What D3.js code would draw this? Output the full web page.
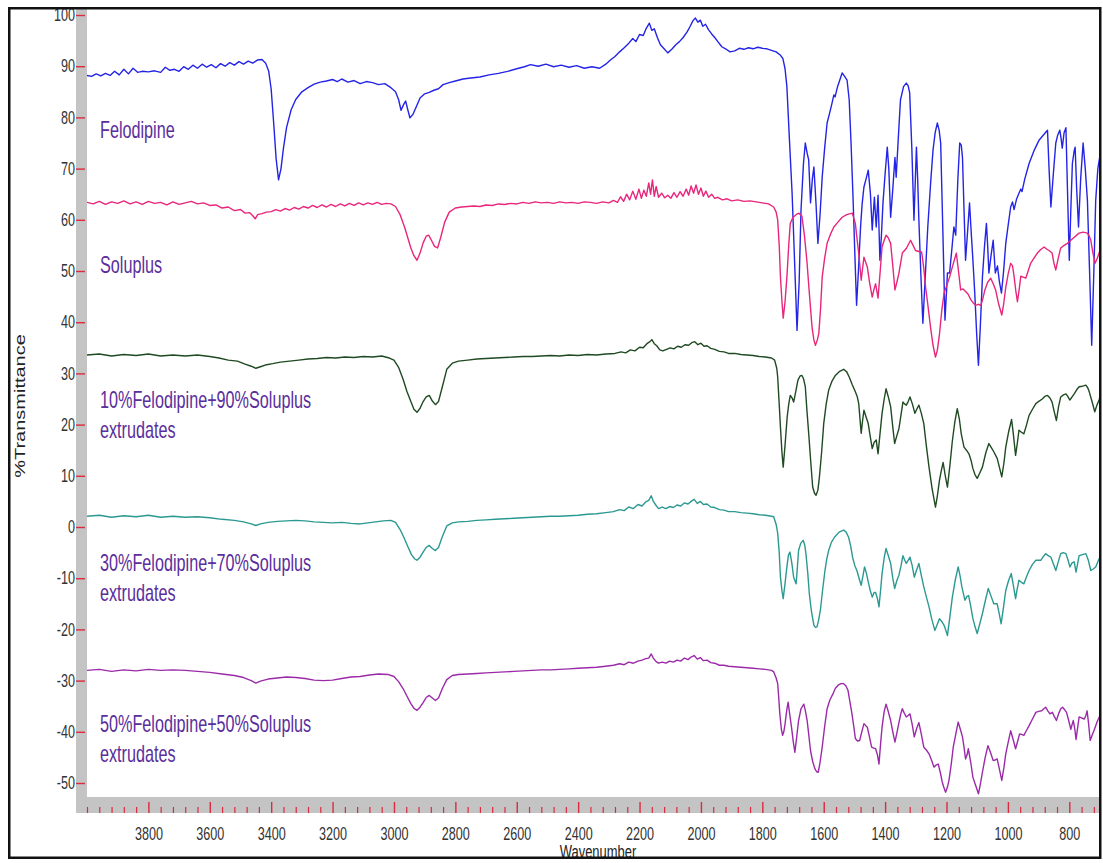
<!DOCTYPE html>
<html>
<head>
<meta charset="utf-8">
<script src="https://cdn.jsdelivr.net/npm/d3@7"></script>
<style>
  body { margin: 0; background: #fff; }
  svg { display: block; font-family: "Liberation Sans", Arial, sans-serif; }
</style>
</head>
<body>
<div id="chart"></div>
<script>
// ---- data (wavenumber, %T) ----
const felodipine = [
  [4000,88.2],[3985,88.0],[3970,88.5],[3955,88.1],[3940,88.6],[3925,88.2],[3910,89.0],[3895,88.3],[3880,89.4],[3865,88.5],
  [3850,89.6],[3835,88.8],[3820,89.0],[3800,88.9],[3780,89.1],[3760,88.8],[3745,89.8],[3730,89.2],[3715,89.4],[3700,89.0],
  [3685,89.9],[3670,89.4],[3655,90.2],[3640,89.6],[3625,90.4],[3610,89.8],[3595,90.3],[3580,89.7],[3565,90.5],[3550,90.0],
  [3535,90.7],[3520,90.2],[3505,90.9],[3490,90.4],[3475,91.0],[3460,90.6],[3445,91.2],[3430,91.3],[3418,90.6],[3408,89.0],
  [3400,85.5],[3392,79],[3384,72],[3376,67.8],[3368,70],[3360,74],[3350,78],[3335,81.5],[3320,83.5],[3300,85.0],
  [3280,85.8],[3260,86.5],[3240,86.9],[3220,87.1],[3200,87.4],[3185,87.0],[3170,87.5],[3150,86.9],[3130,87.2],[3110,86.6],
  [3090,87.0],[3070,86.8],[3050,86.4],[3030,86.6],[3010,85.8],[2995,85.0],[2985,83.5],[2977,81.4],[2968,82.6],[2962,83.2],
  [2955,81.5],[2948,79.9],[2938,80.6],[2928,82.0],[2915,83.8],[2900,84.6],[2885,84.9],[2870,85.3],[2855,85.6],[2840,86.4],
  [2820,86.8],[2800,87.1],[2775,87.5],[2750,87.7],[2720,87.9],[2690,88.3],[2660,88.6],[2630,89.0],[2600,89.5],[2575,89.9],
  [2555,90.3],[2530,90.0],[2505,90.4],[2480,89.9],[2455,90.2],[2430,89.8],[2405,90.1],[2380,89.6],[2355,89.9],[2330,89.6],
  [2310,90.4],[2295,91.2],[2280,91.9],[2265,92.8],[2250,93.6],[2235,94.5],[2222,95.4],[2212,94.8],[2200,96.2],[2188,96.0],
  [2178,97.4],[2168,98.4],[2160,97.0],[2152,97.3],[2142,95.6],[2132,94.2],[2120,93.4],[2108,92.6],[2095,93.3],[2082,94.2],
  [2070,94.8],[2058,95.6],[2045,96.7],[2035,97.8],[2026,98.9],[2018,99.4],[2010,98.6],[2002,99.0],[1994,97.8],[1985,98.2],
  [1975,97.1],[1965,96.3],[1955,95.6],[1945,94.8],[1932,93.8],[1920,93.4],[1905,92.8],[1890,93.0],[1875,93.5],[1860,93.3],
  [1845,93.6],[1830,93.4],[1815,93.7],[1800,93.5],[1785,93.4],[1770,93.1],[1755,92.8],[1742,92.2],[1733,91.5],[1726,89.5],
  [1720,86],[1712,76],[1703,65.2],[1695,52],[1687,38.4],[1680,48],[1674,61.9],[1666,71],[1660,75],[1654,73],
  [1649,71.7],[1643,63.3],[1637,68],[1632,70.3],[1625,63],[1619,55.4],[1612,61],[1605,68.3],[1597,74],[1589,78.9],
  [1581,80.8],[1573,82.8],[1567,84.4],[1563,84],[1555,86],[1546,87.6],[1540,88.7],[1532,88],[1524,87.3],[1517,83.4],
  [1511,75],[1505,65.2],[1499,54],[1493,43.3],[1487,50],[1480,58.6],[1475,63],[1469,66.4],[1462,68],[1455,69.7],
  [1448,65.2],[1442,58],[1435,64.4],[1429,58.6],[1423,64.8],[1417,52.1],[1412,57],[1407,63.3],[1400,69],[1393,74.2],
  [1388,70],[1382,60.5],[1375,66],[1368,72.2],[1364,68.3],[1357,76],[1350,83.4],[1340,86],[1331,86.7],[1325,86.2],
  [1320,84.8],[1313,74],[1306,59.9],[1298,74.2],[1294,68],[1290,59.9],[1284,50],[1277,39.8],[1270,48],[1261,58.6],
  [1252,67],[1244,73.6],[1237,77],[1230,78.9],[1224,77.5],[1219,75],[1212,58],[1205,40.4],[1200,46],[1197,49.6],
  [1190,49.6],[1183,54],[1176,58.6],[1170,57],[1163,68],[1157,75],[1152,74.6],[1148,72.2],[1143,62],[1138,52.1],
  [1131,58],[1125,63.3],[1120,58],[1114,52.1],[1108,45.7],[1102,38],[1096,31.6],[1090,39],[1083,48.8],[1076,55],
  [1070,59.3],[1066,55],[1062,49.6],[1055,53],[1048,56],[1041,49.6],[1034,51],[1028,48],[1021,45.7],[1014,50],
  [1007,55.4],[999,59],[991,62.5],[985,63.5],[980,62],[972,64],[964,65.2],[958,66],[954,65.5],[945,68],
  [931,71],[915,73.5],[898,75.6],[885,76.5],[871,77.5],[866,70],[860,62.5],[852,69],[844,75],[838,76.5],
  [831,77.5],[827,76],[823,74],[817,77],[811,78],[806,66],[800,52.1],[795,62],[790,71],[784,73.5],
  [781,74.2],[776,66],[770,58.6],[763,68],[755,75],[748,70],[741,63.8],[734,50],[727,35.5],[720,50],
  [714,63.8],[707,70],[700,72.6]
];

const soluplus = [
  [4000,63.4],[3980,63.1],[3960,63.6],[3940,63.0],[3920,63.5],[3900,63.2],[3880,63.7],[3860,63.1],[3840,63.5],[3820,63.0],
  [3800,63.6],[3780,63.2],[3760,63.4],[3740,62.9],[3720,63.5],[3700,63.0],[3680,63.3],[3660,63.6],[3640,63.1],[3620,63.3],
  [3600,62.8],[3580,62.9],[3560,62.3],[3540,62.5],[3520,61.8],[3500,62.0],[3485,61.3],[3470,61.4],[3460,60.8],[3452,60.2],
  [3444,61.0],[3430,61.2],[3415,61.5],[3400,61.6],[3385,62.0],[3370,61.7],[3355,62.2],[3340,61.9],[3325,62.4],[3310,62.1],
  [3295,62.6],[3280,62.3],[3265,62.8],[3250,62.4],[3235,62.9],[3220,62.5],[3205,63.0],[3190,62.6],[3175,63.1],[3160,62.7],
  [3145,63.2],[3130,62.8],[3115,63.3],[3100,62.9],[3085,63.3],[3070,63.0],[3055,63.4],[3040,63.0],[3025,63.2],[3010,63.1],
  [2995,62.6],[2980,61.0],[2965,58.5],[2955,56.5],[2945,54.5],[2935,53.0],[2925,52.1],[2915,53.5],[2905,55.5],[2895,56.8],
  [2887,57.0],[2878,56.0],[2868,54.8],[2858,54.5],[2848,56.5],[2835,59.5],[2820,61.5],[2800,62.3],[2780,62.5],[2760,62.6],
  [2740,62.7],[2720,62.6],[2700,62.9],[2680,62.8],[2660,63.1],[2640,63.0],[2620,63.2],[2600,63.1],[2580,63.4],[2560,63.2],
  [2540,63.5],[2520,63.3],[2500,63.4],[2480,63.2],[2460,63.5],[2440,63.3],[2420,63.4],[2400,63.2],[2380,63.5],[2360,63.4],
  [2340,63.2],[2320,63.5],[2300,63.3],[2285,63.8],[2272,63.4],[2262,64.5],[2252,63.6],[2242,65.0],[2232,63.9],[2222,65.6],
  [2212,64.0],[2202,66.0],[2194,64.2],[2186,65.8],[2178,64.6],[2170,67.2],[2164,65.0],[2158,67.8],[2152,64.6],[2146,66.5],
  [2138,64.4],[2128,65.2],[2118,64.3],[2108,64.8],[2098,64.2],[2088,65.3],[2078,64.4],[2068,65.5],[2058,64.6],[2048,66.0],
  [2040,64.8],[2032,66.6],[2024,65.2],[2016,66.8],[2008,65.0],[2000,66.2],[1992,64.6],[1984,65.6],[1975,64.4],[1965,65.0],
  [1955,64.2],[1945,64.4],[1930,63.9],[1915,64.1],[1900,63.7],[1880,63.9],[1860,63.6],[1840,63.7],[1820,63.5],[1800,63.3],
  [1780,63.1],[1763,62.5],[1755,61.5],[1750,60],[1745,55],[1741,48.8],[1736,44],[1732,40.8],[1726,44],[1720,48.8],
  [1714,55],[1709,59.3],[1700,60.5],[1690,61],[1681,61.3],[1671,60.7],[1663,57],[1655,52.1],[1646,45],[1638,39],
  [1632,36.5],[1627,35.5],[1621,36.5],[1616,37.8],[1610,43],[1605,48.8],[1597,52.5],[1589,55.4],[1578,57.2],[1567,58.6],
  [1553,59.6],[1540,60.5],[1525,61.0],[1507,61.3],[1497,59.3],[1491,56],[1486,53.5],[1478,48.2],[1469,52.7],[1458,50.8],
  [1450,47.5],[1442,44.9],[1436,46.5],[1431,47.5],[1423,44.7],[1416,50],[1410,54.7],[1403,56],[1397,57],[1390,56.5],
  [1382,55.4],[1375,51],[1368,46.3],[1361,48],[1355,49.6],[1344,53.5],[1331,54.4],[1317,56],[1309,55],[1301,54],
  [1290,53.8],[1281,53.7],[1274,50.5],[1268,46.8],[1260,43],[1252,39],[1244,35.5],[1236,33.2],[1230,34.5],[1223,37.6],
  [1216,42],[1208,45.7],[1200,47],[1190,48.8],[1180,51],[1168,53.5],[1161,50],[1154,46.3],[1146,46.5],[1138,46],
  [1130,45.5],[1120,44.3],[1112,43.7],[1105,43.3],[1097,43.5],[1088,43.3],[1082,44.5],[1075,46.3],[1066,47.8],[1056,48.6],
  [1048,47.5],[1040,46.3],[1030,43.5],[1020,41.4],[1014,43.5],[1007,46.8],[999,49.5],[991,51.5],[985,51],[980,49],
  [974,46],[969,44],[963,46.5],[958,49],[950,48.8],[942,48.6],[934,50],[926,51.5],[915,52.5],[904,53.5],
  [893,54.2],[882,54.7],[874,54.3],[866,54],[856,53.5],[850,51.5],[844,50.2],[836,52.5],[828,54.5],[817,55],
  [806,55.4],[795,56],[784,56.6],[768,57.4],[755,57.6],[741,57.4],[735,56.8],[730,56],[723,53.5],[716,51.5],
  [709,52.5],[703,53.5],[700,54]
];

const ext10 = [
  [4000,33.6],[3960,33.8],[3920,33.4],[3880,33.7],[3840,33.5],[3800,33.8],[3760,33.4],[3720,33.6],[3680,33.4],[3640,33.6],
  [3600,33.3],[3570,33.0],[3540,32.6],[3510,32.4],[3485,31.8],[3465,31.4],[3450,31.0],[3435,31.3],[3415,31.7],[3395,31.9],
  [3370,32.2],[3340,32.4],[3310,32.6],[3280,32.8],[3250,32.9],[3220,33.1],[3190,33.0],[3160,33.2],[3130,33.1],[3100,33.3],
  [3070,33.2],[3040,33.4],[3015,33.0],[3000,32.6],[2985,31.2],[2970,28.8],[2958,26.5],[2945,24.5],[2935,23.0],[2925,22.4],
  [2915,23.2],[2905,24.5],[2895,25.4],[2885,25.7],[2875,24.6],[2865,23.9],[2855,24.5],[2842,27.5],[2828,30.8],[2810,32.0],
  [2790,32.4],[2760,32.6],[2730,32.8],[2700,32.9],[2670,33.0],[2640,33.1],[2610,33.2],[2580,33.3],[2550,33.3],[2520,33.4],
  [2490,33.5],[2460,33.4],[2430,33.6],[2400,33.5],[2370,33.7],[2340,33.6],[2310,33.8],[2280,33.9],[2260,34.2],[2245,34.0],
  [2230,34.6],[2215,34.4],[2200,35.1],[2188,35.0],[2176,35.8],[2166,36.2],[2160,36.6],[2152,35.8],[2144,35.4],[2134,34.6],
  [2124,34.4],[2112,34.7],[2100,35.0],[2088,34.8],[2076,35.3],[2064,35.1],[2052,35.6],[2040,35.5],[2030,36.0],[2020,36.2],
  [2010,35.6],[2000,35.9],[1990,35.3],[1980,35.4],[1968,34.9],[1955,34.7],[1940,34.3],[1925,34.2],[1910,33.9],[1890,33.9],
  [1870,33.7],[1850,33.6],[1830,33.5],[1810,33.3],[1790,33.2],[1770,33.0],[1760,32.6],[1753,31.0],[1750,29.3],[1745,24],
  [1741,19.5],[1736,14.5],[1732,11.7],[1726,16],[1719,21.5],[1714,24],[1709,25.7],[1703,25.2],[1698,24.4],[1691,26.5],
  [1684,28.7],[1677,29.5],[1671,29.6],[1666,29],[1660,27.4],[1655,23],[1649,18.3],[1642,12.5],[1636,7.8],[1630,6.6],
  [1625,6.2],[1619,7.2],[1614,9.8],[1607,14.5],[1600,20.2],[1592,24],[1584,26.7],[1573,28.5],[1562,29.6],[1548,30.4],
  [1535,30.8],[1525,30.3],[1517,29.3],[1507,27.8],[1497,26.4],[1491,25.5],[1486,24.1],[1478,18.3],[1474,20.5],[1469,22.8],
  [1462,21.5],[1455,20.2],[1448,17.5],[1442,15.3],[1436,16.5],[1429,17],[1423,14.3],[1417,18],[1410,22.2],[1403,25],
  [1397,27],[1390,25.5],[1382,23.5],[1375,19.5],[1369,16.3],[1362,17.8],[1355,19.2],[1348,22],[1342,24.4],[1336,24],
  [1331,23.8],[1325,24.5],[1319,25.4],[1311,24],[1303,22.2],[1297,23],[1290,23.8],[1282,22.2],[1274,20.2],[1266,16],
  [1257,11.7],[1247,7.5],[1236,3.9],[1230,6],[1223,9.1],[1217,11],[1211,12.6],[1204,10],[1197,7.8],[1189,12],
  [1181,16.8],[1173,20.5],[1165,23.1],[1158,21],[1152,18.2],[1143,15.6],[1135,15],[1127,14.3],[1120,13],[1114,11.4],
  [1107,10.2],[1100,9.5],[1092,10.5],[1083,11.7],[1072,14.5],[1062,16.3],[1054,15.5],[1046,14.7],[1035,13.4],[1027,11.5],
  [1020,9.8],[1013,12.5],[1007,15.6],[998,18.5],[988,21],[982,18],[975,14],[969,16.5],[964,18.9],[956,18.5],
  [948,18.2],[940,19.8],[931,21.8],[920,23],[909,24.1],[898,24.6],[888,25],[880,25.5],[871,25.7],[863,25.2],
  [856,24.4],[849,22.5],[842,20.8],[835,23.5],[828,25.4],[819,25.8],[811,26],[805,25.5],[798,24.8],[791,25.4],
  [784,26],[776,26.8],[768,27.4],[757,27.5],[746,27.7],[740,27.2],[735,26.4],[726,24.5],[717,22.5],[710,23.8],
  [703,24.8],[700,25.5]
];

const ext30 = [
  [4000,2.1],[3960,2.3],[3920,1.9],[3880,2.2],[3840,2.0],[3800,2.3],[3760,1.9],[3720,2.1],[3680,1.9],[3640,2.0],
  [3600,1.8],[3560,1.5],[3520,1.3],[3490,1.0],[3465,0.6],[3450,0.3],[3435,0.6],[3410,0.9],[3380,1.1],[3350,1.2],
  [3320,1.3],[3290,1.2],[3260,1.0],[3230,0.9],[3200,0.8],[3170,0.9],[3140,0.7],[3110,0.6],[3085,0.8],[3060,1.0],
  [3035,1.2],[3010,1.3],[2995,0.9],[2980,-0.5],[2968,-2.0],[2955,-3.8],[2943,-5.4],[2933,-6.2],[2925,-6.5],[2915,-5.9],
  [2905,-4.9],[2895,-4.0],[2885,-3.6],[2875,-4.2],[2865,-4.6],[2855,-4.0],[2842,-1.8],[2828,0.2],[2810,0.8],[2790,1.0],
  [2760,1.1],[2730,1.3],[2700,1.4],[2670,1.5],[2640,1.6],[2610,1.7],[2580,1.8],[2550,1.9],[2520,2.0],[2490,2.1],
  [2460,2.1],[2430,2.2],[2400,2.3],[2370,2.5],[2340,2.6],[2310,2.8],[2285,3.0],[2265,3.4],[2250,3.2],[2235,3.9],
  [2220,3.6],[2205,4.4],[2192,4.1],[2180,4.9],[2170,5.2],[2162,6.1],[2155,5.0],[2146,4.2],[2138,3.6],[2126,3.9],
  [2114,3.6],[2102,4.0],[2090,3.8],[2078,4.3],[2066,4.1],[2054,4.7],[2042,4.5],[2032,5.0],[2022,5.4],[2012,4.6],
  [2002,5.0],[1992,4.4],[1980,4.5],[1968,3.9],[1955,3.8],[1940,3.4],[1925,3.3],[1910,3.0],[1890,3.0],[1870,2.8],
  [1850,2.7],[1830,2.6],[1810,2.4],[1790,2.3],[1770,2.1],[1763,2.0],[1755,0.5],[1750,-1.2],[1745,-5],[1741,-9.8],
  [1736,-12.5],[1732,-14],[1726,-11],[1720,-7.8],[1715,-5.5],[1710,-4.9],[1704,-7],[1698,-9.8],[1690,-11.1],[1686,-8],
  [1682,-4.6],[1675,-3.2],[1667,-2.6],[1662,-3.5],[1658,-5.2],[1652,-9],[1647,-13],[1640,-16.5],[1632,-19.2],[1627,-19.6],
  [1622,-19.5],[1617,-18.3],[1611,-16.3],[1604,-12.5],[1596,-8.5],[1590,-6.2],[1584,-4.6],[1575,-3.0],[1565,-2.0],[1550,-1.0],
  [1535,-0.6],[1527,-1.0],[1519,-2.0],[1512,-3.8],[1506,-5.9],[1499,-7.5],[1492,-8.5],[1485,-10],[1478,-11.4],[1472,-9.5],
  [1467,-7.8],[1461,-9],[1455,-10.7],[1448,-12.5],[1442,-13.7],[1436,-12.8],[1431,-12.8],[1425,-14],[1420,-15.6],[1415,-12.5],
  [1410,-9.1],[1403,-6],[1397,-4.2],[1390,-5.5],[1382,-7.1],[1375,-10],[1369,-12],[1362,-10.5],[1355,-9.4],[1348,-7.5],
  [1342,-5.6],[1336,-6.5],[1331,-7.1],[1325,-6.5],[1319,-5.9],[1312,-7.5],[1305,-9.8],[1298,-8.5],[1290,-7.1],[1282,-9.5],
  [1274,-11.7],[1265,-13.8],[1257,-15.6],[1248,-18],[1238,-20.2],[1230,-19],[1223,-17.9],[1215,-18.5],[1208,-19.2],[1202,-20.2],
  [1197,-21.2],[1189,-17.5],[1181,-13.7],[1172,-10.5],[1162,-7.8],[1156,-9.5],[1150,-11.7],[1145,-13],[1140,-14.3],[1134,-13.6],
  [1128,-13.4],[1121,-15.5],[1114,-17.9],[1107,-19.5],[1100,-20.8],[1092,-19],[1083,-16.9],[1074,-14.5],[1064,-12],[1055,-13.5],
  [1046,-15],[1035,-15],[1028,-17],[1022,-18.9],[1014,-15.5],[1007,-12.4],[998,-10.5],[989,-9.1],[982,-11.5],[975,-14],
  [970,-12.2],[964,-10.4],[956,-10.8],[948,-11.1],[940,-9.8],[931,-8.5],[920,-7.3],[909,-6.5],[900,-6.5],[893,-6.5],
  [885,-5.8],[877,-5.2],[869,-5.6],[860,-5.9],[852,-7.2],[844,-8.5],[836,-6.8],[828,-5.2],[820,-5.0],[811,-5.2],
  [804,-6.5],[798,-7.8],[791,-7.0],[784,-6.8],[778,-8.8],[773,-7.2],[768,-5.6],[757,-5.4],[746,-5.2],[738,-6.5],
  [730,-8.5],[722,-8.2],[714,-7.8],[707,-6.8],[700,-5.8]
];

const ext50 = [
  [4000,-28.0],[3960,-27.8],[3920,-28.2],[3880,-27.9],[3840,-28.1],[3800,-27.8],[3760,-28.0],[3720,-27.9],[3680,-28.0],[3640,-28.2],
  [3600,-28.4],[3560,-28.7],[3520,-29.0],[3490,-29.4],[3465,-30.0],[3450,-30.5],[3435,-30.1],[3410,-29.7],[3380,-29.5],[3350,-29.3],
  [3320,-29.4],[3290,-29.6],[3260,-29.9],[3230,-30.0],[3200,-29.9],[3170,-29.6],[3140,-29.3],[3110,-29.2],[3080,-28.9],[3050,-28.7],
  [3020,-28.8],[3000,-29.2],[2985,-30.2],[2970,-31.6],[2958,-33.0],[2945,-34.5],[2935,-35.4],[2925,-35.8],[2915,-35.2],[2905,-34.3],
  [2895,-33.3],[2885,-32.9],[2875,-33.4],[2865,-33.9],[2855,-33.4],[2842,-31.5],[2828,-29.8],[2810,-29.0],[2790,-28.8],[2760,-28.7],
  [2730,-28.6],[2700,-28.5],[2670,-28.4],[2640,-28.3],[2610,-28.2],[2580,-28.1],[2550,-28.0],[2520,-27.9],[2490,-27.9],[2460,-27.8],
  [2430,-27.7],[2400,-27.6],[2370,-27.5],[2340,-27.4],[2310,-27.2],[2285,-27.0],[2265,-26.7],[2250,-26.9],[2235,-26.4],[2220,-26.6],
  [2205,-26.2],[2192,-26.0],[2180,-25.7],[2170,-25.6],[2162,-24.8],[2155,-25.6],[2146,-26.3],[2138,-26.6],[2126,-26.4],[2114,-26.6],
  [2102,-26.2],[2090,-26.4],[2078,-26.0],[2066,-26.2],[2054,-25.6],[2042,-25.9],[2032,-25.4],[2022,-25.1],[2012,-25.8],[2002,-25.5],
  [1992,-26.1],[1980,-26.0],[1968,-26.5],[1955,-26.6],[1940,-27.0],[1925,-27.0],[1910,-27.2],[1890,-27.3],[1870,-27.4],[1850,-27.5],
  [1830,-27.6],[1810,-27.7],[1790,-27.8],[1770,-28.0],[1763,-28.3],[1755,-29.5],[1750,-30.6],[1747,-33],[1743,-36.5],[1738,-39.5],
  [1734,-40.7],[1730,-40],[1726,-38.5],[1721,-36],[1716,-34.2],[1711,-36.5],[1705,-39.1],[1699,-42],[1694,-44],[1688,-41],
  [1682,-37.8],[1674,-35.5],[1665,-34.6],[1660,-35.8],[1654,-37.8],[1648,-41],[1643,-43.7],[1636,-45.8],[1629,-47.2],[1623,-47.8],
  [1618,-47.9],[1612,-46],[1605,-43],[1597,-39],[1589,-35.5],[1580,-33.8],[1570,-32.6],[1562,-31.5],[1553,-30.9],[1544,-30.6],
  [1535,-30.6],[1528,-31.0],[1521,-31.9],[1515,-34],[1508,-36.5],[1502,-39],[1497,-41.3],[1490,-41.8],[1483,-41.7],[1476,-40],
  [1469,-38.4],[1463,-38.8],[1458,-39.1],[1451,-41],[1444,-43],[1437,-43.2],[1431,-43.3],[1425,-44.5],[1420,-46.3],[1415,-42.5],
  [1410,-39.1],[1403,-36],[1397,-34.6],[1390,-36],[1382,-37.8],[1375,-40],[1368,-42],[1361,-40],[1355,-38.2],[1349,-36.5],
  [1344,-35.5],[1338,-36.3],[1331,-37.1],[1325,-36.8],[1319,-36.5],[1312,-38.5],[1305,-41],[1298,-39.5],[1290,-38.2],[1282,-40.5],
  [1274,-43],[1265,-43.6],[1257,-44.3],[1249,-45.5],[1241,-46.9],[1234,-46.5],[1227,-46.3],[1220,-48],[1214,-49.8],[1208,-51],
  [1203,-51.8],[1197,-50.8],[1192,-49.5],[1185,-46.5],[1178,-43],[1170,-40.5],[1162,-38.1],[1155,-39.5],[1148,-41],[1143,-43],
  [1138,-45.3],[1133,-44.5],[1129,-43.3],[1121,-46],[1114,-48.9],[1105,-50.5],[1096,-52.1],[1090,-50.3],[1083,-47.9],[1074,-45],
  [1065,-42.7],[1057,-44],[1048,-45.6],[1041,-45.5],[1035,-45.3],[1027,-47.5],[1020,-49.5],[1013,-47],[1007,-44.3],[999,-42],
  [991,-39.8],[983,-41.5],[975,-43.3],[968,-41.8],[962,-40.4],[955,-40.5],[948,-40.7],[940,-39.8],[931,-38.8],[920,-37.5],
  [909,-36.2],[900,-36.0],[890,-35.9],[883,-35.5],[877,-35.2],[870,-35.9],[863,-36.5],[855,-36.2],[849,-37],[842,-37.8],
  [835,-36.5],[828,-35.5],[822,-35.2],[815,-35.7],[809,-36.2],[802,-37.8],[795,-39.5],[791,-38.6],[787,-37.8],[782,-39.5],
  [778,-41.5],[773,-39.3],[768,-37.1],[760,-37.3],[751,-37.5],[746,-36.8],[742,-35.9],[737,-38.5],[732,-41.7],[725,-40.6],
  [718,-39.5],[709,-38],[700,-36.8]
];

const seriesData = [felodipine, soluplus, ext10, ext30, ext50];
const seriesColors = ['#2424e6', '#e8267c', '#1f4a22', '#2b9992', '#9b2aa9'];
// each label may have two lines
const seriesLabels = [
  ['Felodipine'],
  ['Soluplus'],
  ['10%Felodipine+90%Soluplus', 'extrudates'],
  ['30%Felodipine+70%Soluplus', 'extrudates'],
  ['50%Felodipine+50%Soluplus', 'extrudates']
];

const yTicks = [100, 90, 80, 70, 60, 50, 40, 30, 20, 10, 0, -10, -20, -30, -40, -50];
const xTicks = [3800, 3600, 3400, 3200, 3000, 2800, 2600, 2400, 2200, 2000, 1800, 1600, 1400, 1200, 1000, 800];
const xMinorTicks = d3.range(4000, 699, -40).filter((d) => d % 200 !== 0 || d === 4000);

// ---- layout ----
const width = 1103;
const height = 863;
const plot = { left: 87, right: 1100, top: 10, bottom: 797 };
const squeeze = 0.7; // the whole figure is horizontally squashed
const labelBaselines = [138, 273, 408, 571, 732]; // first line of each series label, px

const svg = d3.select('#chart').append('svg')
  .attr('width', width)
  .attr('height', height);

svg.append('rect').attr('width', width).attr('height', height).attr('fill', '#fff');

const x = d3.scaleLinear().domain([4000, 700]).range([plot.left, plot.right]);
const y = d3.scaleLinear().domain([-50, 100]).range([783, 15]);

// grey axis bars
svg.append('rect')
  .attr('x', 76).attr('y', 9)
  .attr('width', plot.left - 76).attr('height', 813 - 9)
  .attr('fill', '#c4c4c4');
svg.append('rect')
  .attr('x', 76).attr('y', plot.bottom)
  .attr('width', plot.right - 76).attr('height', 16)
  .attr('fill', '#c4c4c4');

// clip for the spectra
svg.append('clipPath').attr('id', 'plot-clip')
  .append('rect')
  .attr('x', plot.left).attr('y', plot.top)
  .attr('width', plot.right - plot.left).attr('height', plot.bottom - plot.top);

const line = d3.line()
  .x((d) => x(d[0]))
  .y((d) => y(d[1]));

svg.append('g')
  .attr('clip-path', 'url(#plot-clip)')
  .selectAll('path')
  .data(seriesData)
  .enter()
  .append('path')
  .attr('d', line)
  .attr('fill', 'none')
  .attr('stroke', (d, i) => seriesColors[i])
  .attr('stroke-width', 1.4)
  .attr('stroke-linejoin', 'round');

// series labels
seriesLabels.forEach((lines, i) => {
  lines.forEach((txt, j) => {
    svg.append('text')
      .attr('transform', `translate(100, ${labelBaselines[i] + j * 30}) scale(0.705, 1)`)
      .attr('font-size', 23)
      .attr('fill', '#5a2e9c')
      .text(txt);
  });
});

// x axis: minor then major ticks pointing up from the bottom of the grey bar
const tickRed = '#dc2a3e';
const xMinorAxis = d3.axisBottom(x).tickValues(xMinorTicks).tickSize(-6).tickFormat('');
const xMajorAxis = d3.axisBottom(x).tickValues(xTicks).tickSize(-11).tickPadding(14).tickFormat((d) => String(d));

const gxMinor = svg.append('g').attr('transform', 'translate(0, 813)').call(xMinorAxis);
gxMinor.select('.domain').remove();
gxMinor.selectAll('line').attr('stroke', tickRed).attr('stroke-width', 1.2);

const gx = svg.append('g').attr('transform', 'translate(0, 813)').call(xMajorAxis);
gx.select('.domain').remove();
gx.selectAll('line').attr('stroke', tickRed).attr('stroke-width', 1.4);
gx.selectAll('text')
  .attr('font-size', 18)
  .attr('font-family', '"Liberation Sans", Arial, sans-serif')
  .attr('fill', '#333')
  .attr('transform', `scale(${squeeze}, 1)`);

// y axis
const yAxis = d3.axisLeft(y).tickValues(yTicks).tickSize(9).tickPadding(1).tickFormat((d) => String(d));
const gy = svg.append('g').attr('transform', 'translate(85, 0)').call(yAxis);
gy.select('.domain').remove();
gy.selectAll('line').attr('stroke', tickRed).attr('stroke-width', 1.4);
gy.selectAll('text')
  .attr('font-size', 18)
  .attr('font-family', '"Liberation Sans", Arial, sans-serif')
  .attr('fill', '#333')
  .attr('x', -10 / squeeze)
  .attr('transform', `scale(${squeeze}, 1)`);

// axis titles
svg.append('text')
  .attr('transform', `translate(25, 406) scale(${squeeze}, 1) rotate(-90)`)
  .attr('text-anchor', 'middle')
  .attr('font-size', 20)
  .attr('fill', '#222')
  .text('%Transmittance');

svg.append('text')
  .attr('transform', `translate(598, 858) scale(${squeeze}, 1)`)
  .attr('text-anchor', 'middle')
  .attr('font-size', 18.5)
  .attr('fill', '#222')
  .text('Wavenumber');

// outer frame drawn last, it hides the foot of "Wavenumber"
svg.append('rect')
  .attr('x', 9.25).attr('y', 8.25)
  .attr('width', 1091).attr('height', 849.5)
  .attr('fill', 'none')
  .attr('stroke', '#111')
  .attr('stroke-width', 2.5);
</script>
</body>
</html>
